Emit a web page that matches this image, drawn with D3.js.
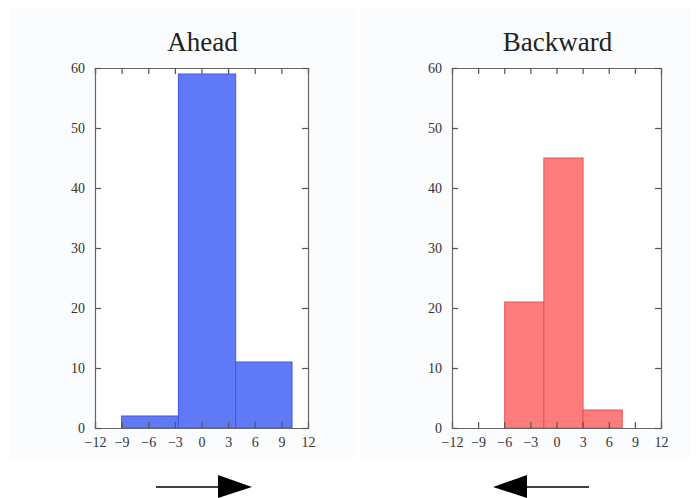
<!DOCTYPE html>
<html>
<head>
<meta charset="utf-8">
<script src="https://cdn.jsdelivr.net/npm/d3@7"></script>
<style>
  html, body { margin: 0; padding: 0; background: #fff; }
  svg { display: block; }
</style>
</head>
<body>
<svg id="chart" width="697" height="498"></svg>
<script>
// ---- data ----
const titles = ["Ahead", "Backward"];
const aheadEdges = [-9, -2.6, 3.85, 10.2];
const aheadCounts = [2, 59, 11];
const backwardEdges = [-5.95, -1.45, 3.05, 7.55];
const backwardCounts = [21, 45, 3];
const xTicks = [-12, -9, -6, -3, 0, 3, 6, 9, 12];
const yTicks = [0, 10, 20, 30, 40, 50, 60];
const xDomain = [-12, 12];
const yDomain = [0, 60];

const svg = d3.select("#chart");

// faint panel backgrounds
svg.append("rect").attr("x", 10).attr("y", 8).attr("width", 345).attr("height", 450).attr("fill", "#fbfcfe");
svg.append("rect").attr("x", 360).attr("y", 8).attr("width", 330).attr("height", 450).attr("fill", "#fbfcfe");

const panels = [
  { title: titles[0], edges: aheadEdges, counts: aheadCounts, x0: 95, x1: 308, fill: "#6079f7", stroke: "#3f58e6" },
  { title: titles[1], edges: backwardEdges, counts: backwardCounts, x0: 452, x1: 661, fill: "#ff7c7c", stroke: "#e65555" }
];
const plotTop = 68, plotBottom = 428, tickLen = 6;
const fmt = d => d < 0 ? "\u2212" + Math.abs(d) : String(d);

panels.forEach(p => {
  const x = d3.scaleLinear().domain(xDomain).range([p.x0, p.x1]);
  const y = d3.scaleLinear().domain(yDomain).range([plotBottom, plotTop]);
  const g = svg.append("g");

  g.append("rect").attr("x", p.x0).attr("y", plotTop).attr("width", p.x1 - p.x0).attr("height", plotBottom - plotTop).attr("fill", "#fff");

  const bins = p.counts.map((c, i) => ({ x0: p.edges[i], x1: p.edges[i + 1], c }));
  g.selectAll("rect.bar").data(bins).join("rect")
    .attr("class", "bar")
    .attr("x", d => x(d.x0))
    .attr("width", d => x(d.x1) - x(d.x0))
    .attr("y", d => y(d.c))
    .attr("height", d => y(0) - y(d.c))
    .attr("fill", p.fill)
    .attr("stroke", p.stroke)
    .attr("stroke-width", 1);

  const axB = g.append("g").attr("transform", `translate(0,${plotBottom})`)
    .call(d3.axisBottom(x).tickValues(xTicks).tickSize(-tickLen).tickFormat(fmt).tickPadding(9));
  const axT = g.append("g").attr("transform", `translate(0,${plotTop})`)
    .call(d3.axisTop(x).tickValues(xTicks).tickSize(-tickLen).tickFormat(""));
  const axL = g.append("g").attr("transform", `translate(${p.x0},0)`)
    .call(d3.axisLeft(y).tickValues(yTicks).tickSize(-tickLen).tickFormat(d3.format("d")).tickPadding(10));
  const axR = g.append("g").attr("transform", `translate(${p.x1},0)`)
    .call(d3.axisRight(y).tickValues(yTicks).tickSize(-tickLen).tickFormat(""));
  [axB, axT, axL, axR].forEach(a => {
    a.select(".domain").attr("stroke", "#666").attr("stroke-width", 1.2);
    a.selectAll(".tick line").attr("stroke", "#555").attr("stroke-width", 1.2);
    a.selectAll(".tick text").attr("font-family", "Liberation Serif, serif").attr("font-size", 14).attr("fill", "#333");
  });

  g.append("text")
    .attr("x", (p.x0 + p.x1) / 2 + 1)
    .attr("y", 51)
    .attr("text-anchor", "middle")
    .attr("font-family", "Liberation Serif, serif")
    .attr("font-size", 27)
    .attr("fill", "#222")
    .text(p.title);
});

// direction arrows
const arrowY = 487;
svg.append("line").attr("x1", 156).attr("x2", 219).attr("y1", arrowY).attr("y2", arrowY).attr("stroke", "#000").attr("stroke-width", 1.5);
svg.append("path").attr("d", `M218,${arrowY - 12}L252,${arrowY}L218,${arrowY + 11}Z`).attr("fill", "#000");
svg.append("line").attr("x1", 526).attr("x2", 589).attr("y1", arrowY).attr("y2", arrowY).attr("stroke", "#000").attr("stroke-width", 1.5);
svg.append("path").attr("d", `M527,${arrowY - 12}L493,${arrowY}L527,${arrowY + 11}Z`).attr("fill", "#000");
</script>
</body>
</html>
